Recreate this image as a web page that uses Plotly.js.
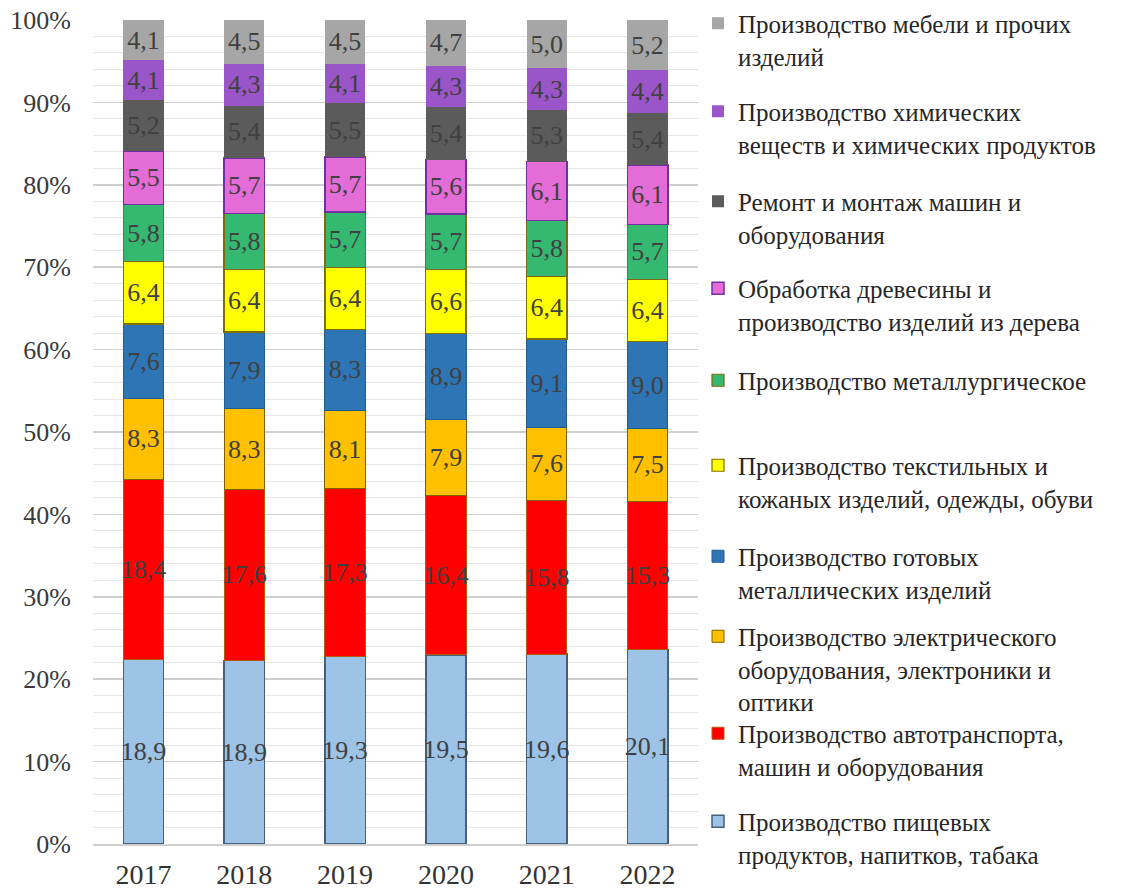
<!DOCTYPE html>
<html>
<head>
<meta charset="utf-8">
<script src="https://cdn.plot.ly/plotly-3.0.1.min.js"></script>
<style>
  html, body { margin: 0; padding: 0; background: #ffffff; }
  #chart { width: 1122px; height: 890px; }
</style>
</head>
<body>
<div id="chart"></div>
<script>
const years = ['2017', '2018', '2019', '2020', '2021', '2022'];

const seriesNames = [
  'Производство пищевых<br>продуктов, напитков, табака',
  'Производство автотранспорта,<br>машин и оборудования',
  'Производство электрического<br>оборудования, электроники и<br>оптики',
  'Производство готовых<br>металлических изделий',
  'Производство текстильных и<br>кожаных изделий, одежды, обуви',
  'Производство металлургическое',
  'Обработка древесины и<br>производство изделий из дерева',
  'Ремонт и монтаж машин и<br>оборудования',
  'Производство химических<br>веществ и химических продуктов',
  'Производство мебели и прочих<br>изделий'
];

const food        = [18.9, 18.9, 19.3, 19.5, 19.6, 20.1];
const transport   = [18.4, 17.6, 17.3, 16.4, 15.8, 15.3];
const electrical  = [8.3, 8.3, 8.1, 7.9, 7.6, 7.5];
const metalGoods  = [7.6, 7.9, 8.3, 8.9, 9.1, 9.0];
const textile     = [6.4, 6.4, 6.4, 6.6, 6.4, 6.4];
const metallurgy  = [5.8, 5.8, 5.7, 5.7, 5.8, 5.7];
const wood        = [5.5, 5.7, 5.7, 5.6, 6.1, 6.1];
const repair      = [5.2, 5.4, 5.5, 5.4, 5.3, 5.4];
const chemicals   = [4.1, 4.3, 4.1, 4.3, 4.3, 4.4];
const furniture   = [4.1, 4.5, 4.5, 4.7, 5.0, 5.2];

const seriesValues = [food, transport, electrical, metalGoods, textile, metallurgy, wood, repair, chemicals, furniture];

const fillColors = ['#9DC3E6', '#FF0000', '#FFC000', '#2E75B6', '#FFFF00', '#35B870', '#E46CD6', '#5B5B5B', '#9A55C8', '#A6A6A6'];
const lineColors = ['#44607A', '#B45A10', '#7F6000', '#245C90', '#7F7000', '#7F6A10', '#7030A0', '#5B5B5B', '#9A55C8', '#A6A6A6'];
const lineWidths = [1.5, 1, 1, 1, 1.2, 1.2, 1.5, 0, 0, 0];

// first-line centre (px from top) of each legend entry, bottom series first
const legendLineCentres = [823, 735, 638, 558, 467, 382, 290, 203, 113, 25];

const serif = 'Liberation Serif';
const fmt = v => v.toFixed(1).replace('.', ',');

function draw() {
  const traces = seriesValues.map((vals, i) => ({
    type: 'bar',
    name: seriesNames[i],
    x: years,
    y: vals,
    text: vals.map(fmt),
    textposition: 'inside',
    insidetextanchor: 'middle',
    textangle: 0,
    constraintext: 'none',
    cliponaxis: false,
    textfont: { family: serif, size: 26, color: '#404040' },
    marker: { color: fillColors[i], line: { color: lineColors[i], width: lineWidths[i] } },
    legend: i === 0 ? 'legend' : 'legend' + (i + 1),
    hovertemplate: '%{x}: %{text}<extra></extra>'
  }));

  const layout = {
    width: 1122,
    height: 890,
    paper_bgcolor: '#ffffff',
    plot_bgcolor: '#ffffff',
    margin: { l: 93, r: 422, t: 20, b: 46, pad: 0 },
    barmode: 'stack',
    barnorm: 'percent',
    bargap: 0.6,
    font: { family: serif, color: '#333333' },
    xaxis: {
      type: 'category',
      tickfont: { family: serif, size: 28, color: '#333333' },
      ticks: '',
      ticklabelstandoff: 5,
      showline: true,
      linecolor: '#cfcfcf',
      linewidth: 1.5,
      showgrid: false,
      zeroline: false
    },
    yaxis: {
      range: [0, 100.0001],
      dtick: 10,
      tick0: 0,
      ticksuffix: '%',
      tickfont: { family: serif, size: 26, color: '#3a3a3a' },
      ticks: '',
      ticklabelstandoff: 21,
      showgrid: true,
      gridcolor: '#cfcfcf',
      gridwidth: 1.5,
      zeroline: false,
      minor: { dtick: 2, showgrid: true, gridcolor: '#e6e6e6', gridwidth: 1 }
    },
    showlegend: true
  };

  seriesValues.forEach((_, i) => {
    const key = i === 0 ? 'legend' : 'legend' + (i + 1);
    layout[key] = {
      xref: 'container',
      yref: 'container',
      x: 698 / 1122,
      y: 1 - (legendLineCentres[i] - 24.5) / 890,
      xanchor: 'left',
      yanchor: 'top',
      valign: 'top',
      bgcolor: 'rgba(0,0,0,0)',
      borderwidth: 0,
      itemwidth: 30,
      font: { family: serif, size: 25, color: '#262626' },
      itemclick: false,
      itemdoubleclick: false
    };
  });

  Plotly.newPlot('chart', traces, layout, { displayModeBar: false, staticPlot: true });
}

let drawn = false;
function once() { if (!drawn) { drawn = true; draw(); } }
if (document.fonts && document.fonts.load) {
  document.fonts.load("25px 'Liberation Serif'", 'Производство 2017 100%').then(once, once);
  setTimeout(once, 1500);
} else {
  once();
}
</script>
</body>
</html>
